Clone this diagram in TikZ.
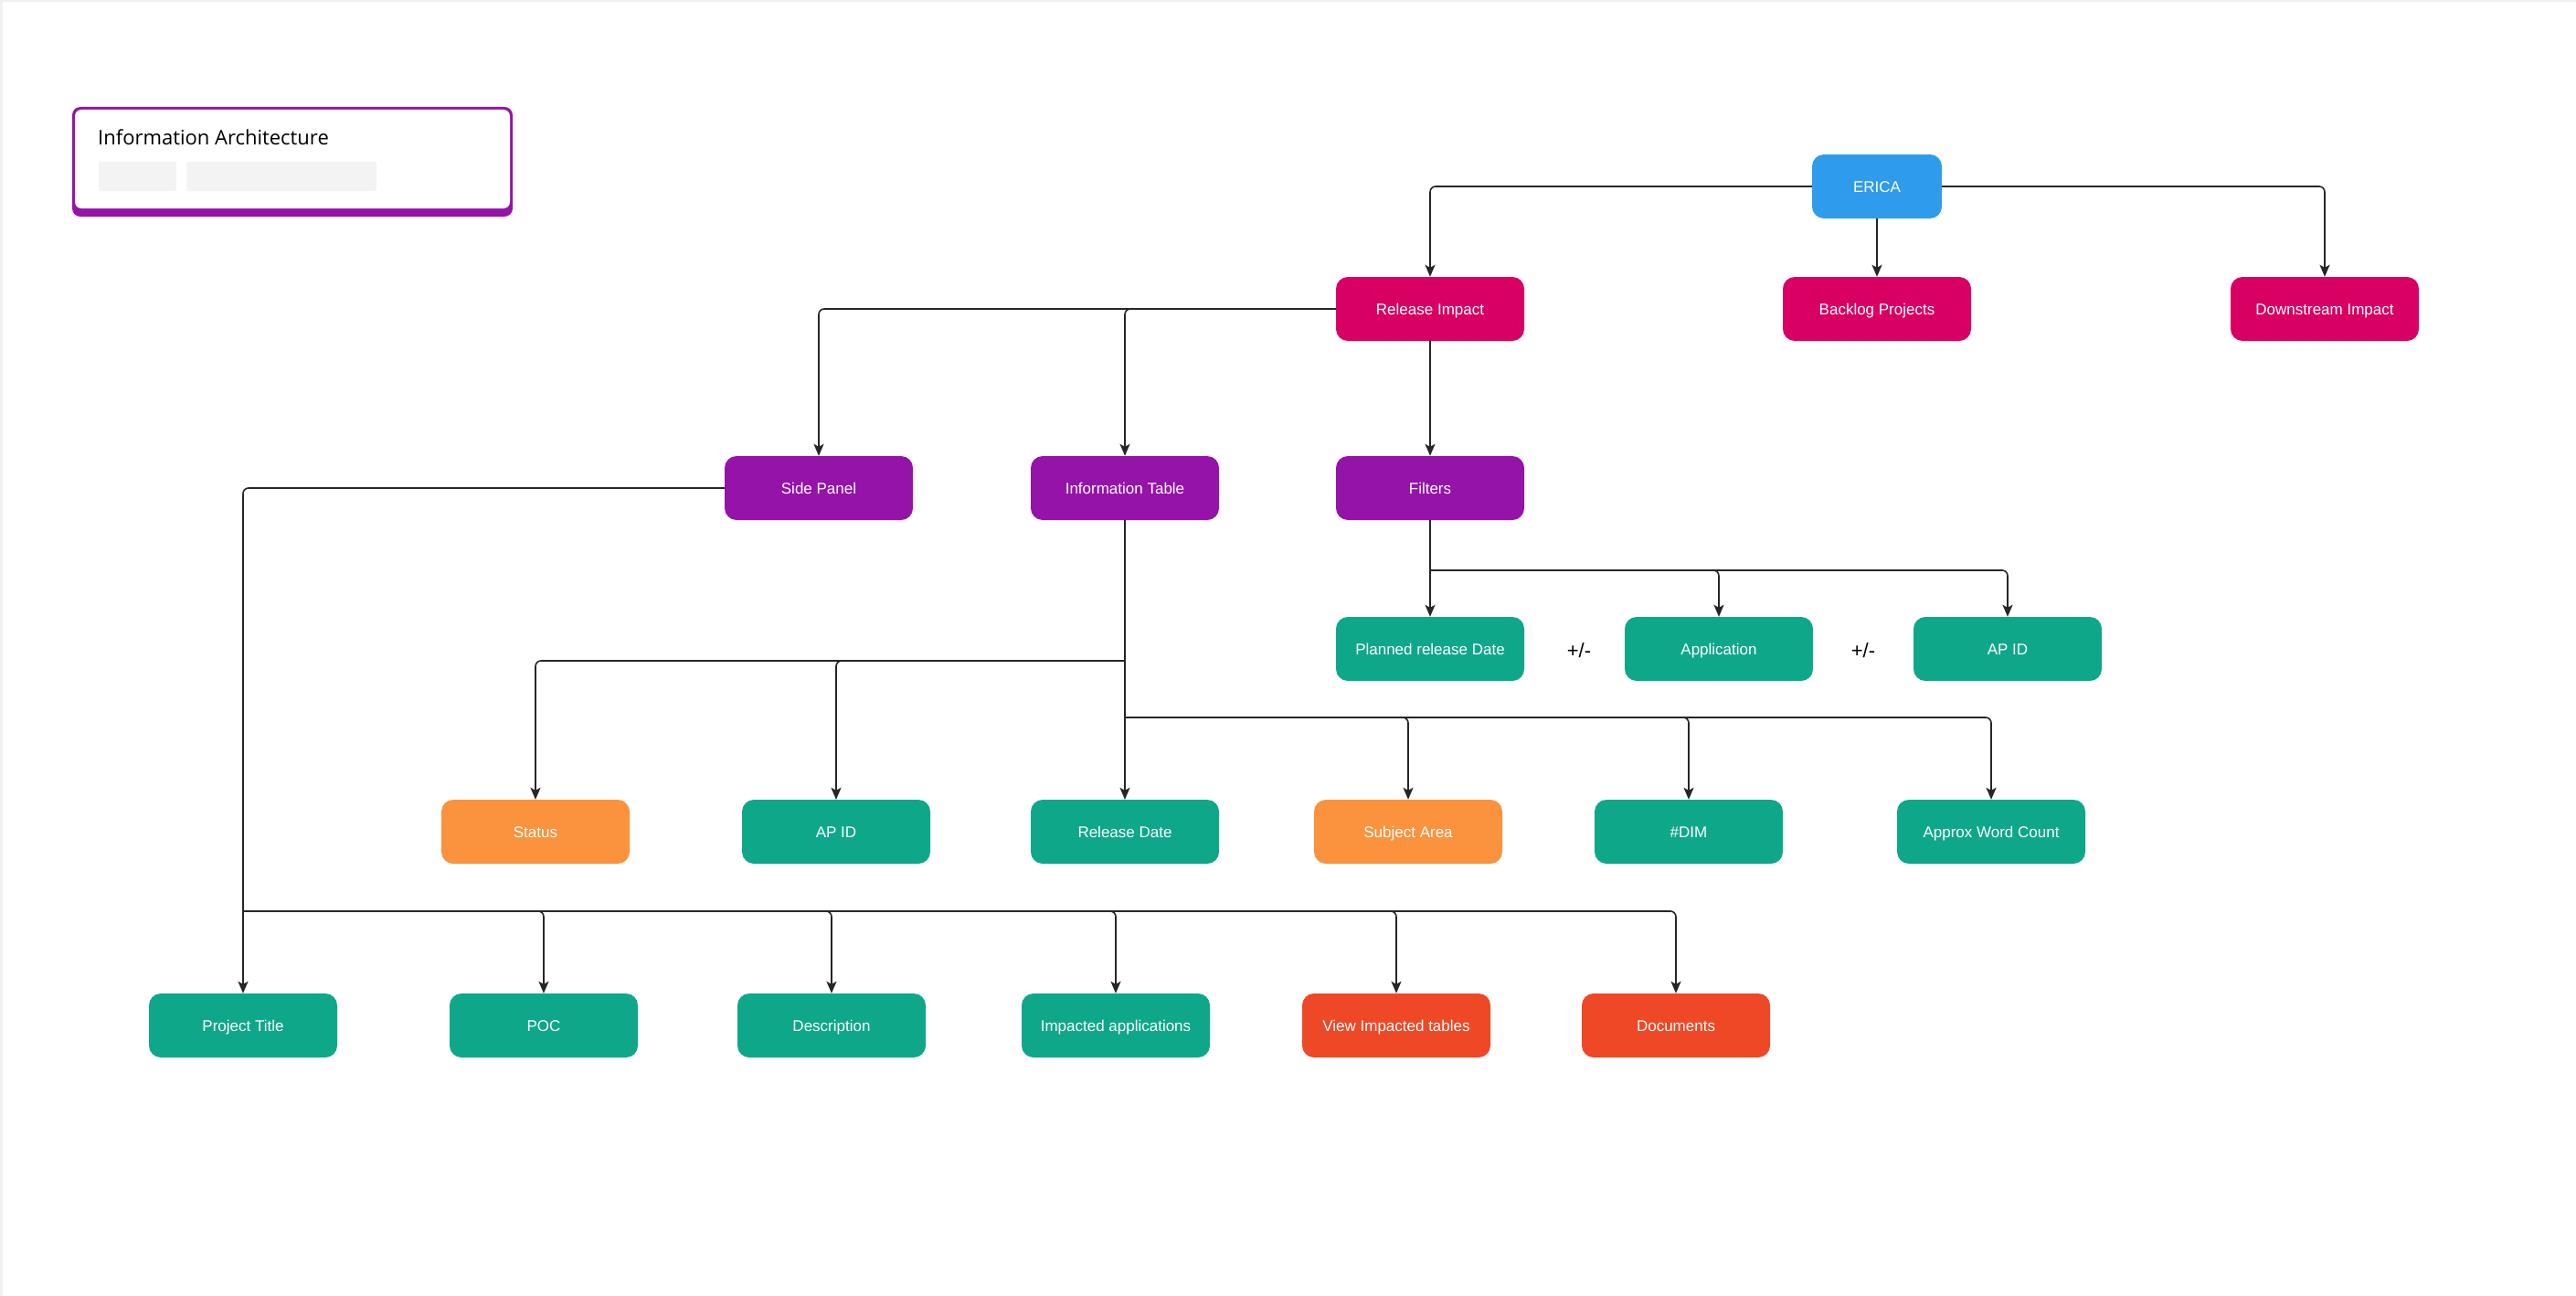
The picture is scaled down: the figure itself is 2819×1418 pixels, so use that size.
\documentclass[tikz,border=0pt]{standalone}
\usepackage{fontspec}
\setmainfont{Liberation Sans}
\newfontfamily\titlefont{Open Sans}
\usetikzlibrary{arrows.meta}

\definecolor{ericablue}{HTML}{2F9BEB}
\definecolor{impactred}{HTML}{D80062}
\definecolor{panelpurple}{HTML}{9513A9}
\definecolor{fieldgreen}{HTML}{0FA78A}
\definecolor{fieldorange}{HTML}{FA923E}
\definecolor{fieldred}{HTML}{EF4826}
\definecolor{placegray}{HTML}{F3F3F3}

\begin{document}
\begin{tikzpicture}[x=1pt, y=-1pt,
    box/.style={rectangle, rounded corners=13pt, minimum width=206pt,
      minimum height=70pt, text height=12.2pt, text depth=0pt,
      text=white, font=\fontsize{17}{20}\selectfont},
    arr/.style={draw=black!85, line width=1.6pt, rounded corners=6pt,
      -{Stealth[length=13pt,width=11pt,inset=3pt]}},
    plusminus/.style={font=\fontsize{22}{24}\selectfont}]
      \useasboundingbox (0,0) rectangle (2819,1418);
      \fill[white] (0,0) rectangle (2819,1418);
      \draw[black!6, line width=3pt] (1,1418) -- (1,1) -- (2819,1);

      % title card
      \fill[panelpurple, rounded corners=9pt] (79,117) rectangle (561,237);
      \fill[white, rounded corners=7pt] (82,120) rectangle (558,228);
      \node[anchor=base west, inner sep=0pt, font=\titlefont\fontsize{22}{26}\selectfont] (title) at (107,158) {Information Architecture};
      \fill[placegray, rounded corners=2pt] (108,177) rectangle (193,209);
      \fill[placegray, rounded corners=2pt] (204,177) rectangle (412,209);

      % top levels
      \node[box, fill=ericablue, minimum width=142pt] (erica) at (2054,204) {ERICA};
      \node[box, fill=impactred] (relimp)   at (1565,338) {Release Impact};
      \node[box, fill=impactred] (backlog)  at (2054,338) {Backlog Projects};
      \node[box, fill=impactred] (downimp)  at (2544,338) {Downstream Impact};
      \node[box, fill=panelpurple] (sidepanel) at (896,534)  {Side Panel};
      \node[box, fill=panelpurple] (infotab)   at (1231,534) {Information Table};
      \node[box, fill=panelpurple] (filters)   at (1565,534) {Filters};

      % filters
      \node[box, fill=fieldgreen] (planned) at (1565,710) {Planned release Date};
      \node[box, fill=fieldgreen] (appl)    at (1881,710) {Application};
      \node[box, fill=fieldgreen] (fapid)   at (2197,710) {AP ID};
      \node[plusminus] (pmone) at (1728,712) {+/-};
      \node[plusminus] (pmtwo) at (2039,712) {+/-};

      % information table
      \node[box, fill=fieldorange] (status)  at (586,910)  {Status};
      \node[box, fill=fieldgreen]  (apid)    at (915,910)  {AP ID};
      \node[box, fill=fieldgreen]  (reldate) at (1231,910) {Release Date};
      \node[box, fill=fieldorange] (subject) at (1541,910) {Subject Area};
      \node[box, fill=fieldgreen]  (dim)     at (1848,910) {\#DIM};
      \node[box, fill=fieldgreen]  (words)   at (2179,910) {Approx Word Count};

      % side panel
      \node[box, fill=fieldgreen] (projtitle) at (266,1122)  {Project Title};
      \node[box, fill=fieldgreen] (poc)       at (595,1122)  {POC};
      \node[box, fill=fieldgreen] (descr)     at (910,1122)  {Description};
      \node[box, fill=fieldgreen] (impapps)   at (1221,1122) {Impacted applications};
      \node[box, fill=fieldred]   (imptables) at (1528,1122) {View Impacted tables};
      \node[box, fill=fieldred]   (docs)      at (1834,1122) {Documents};

      \coordinate (fbus)  at (1565,624);
      \coordinate (ibusa) at (1231,723);
      \coordinate (ibusb) at (1231,785);
      \coordinate (sbus)  at (266,997);

      \draw[arr] (erica.west) -| (relimp.north);
      \draw[arr] (erica.east) -| (downimp.north);
      \draw[arr] (erica) -- (backlog);
      \draw[arr] (relimp.west) -| (sidepanel.north);
      \draw[arr] (relimp.west) -| (infotab.north);
      \draw[arr] (relimp) -- (filters);

      \draw[arr] (filters) -- (planned);
      \draw[arr] (fbus) -| (appl.north);
      \draw[arr] (fbus) -| (fapid.north);

      \draw[arr] (infotab) -- (reldate);
      \draw[arr] (ibusa) -| (status.north);
      \draw[arr] (ibusa) -| (apid.north);
      \draw[arr] (ibusb) -| (subject.north);
      \draw[arr] (ibusb) -| (dim.north);
      \draw[arr] (ibusb) -| (words.north);

      \draw[arr] (sidepanel.west) -| (projtitle.north);
      \draw[arr] (sbus) -| (poc.north);
      \draw[arr] (sbus) -| (descr.north);
      \draw[arr] (sbus) -| (impapps.north);
      \draw[arr] (sbus) -| (imptables.north);
      \draw[arr] (sbus) -| (docs.north);
    \end{tikzpicture}
\end{document}
